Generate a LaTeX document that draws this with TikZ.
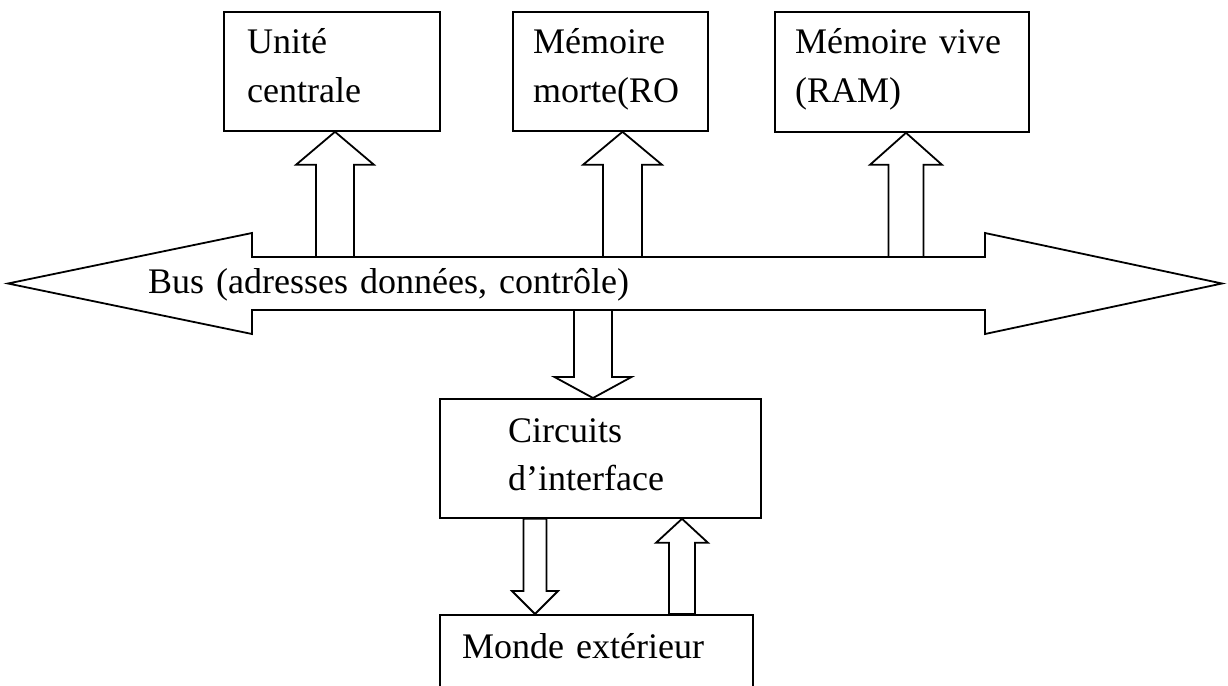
\documentclass[tikz,border=0pt]{standalone}
\usepackage{fontspec}
\setmainfont{Liberation Serif}
\usetikzlibrary{calc}
\tikzset{
  ln/.style={line width=1.8pt, line join=miter},
  box/.style={ln, draw, fill=white, anchor=north west, inner sep=0pt},
  lbl/.style={anchor=base west, inner sep=0pt, align=left, text width=320pt,
              font=\fontsize{36}{48}\selectfont},
  blk/.style={ln, draw, fill=white},
}
% #1 tip, #2 end of shaft, #3 shaft half width, #4 head half width, #5 head length
\newcommand{\blockarrow}[5]{%
  \draw[blk] let \p1=#1, \p2=#2, \n1={sign(\y1-\y2)} in
    (\x1,\y1) -- (\x1+#4,\y1-\n1*#5) -- (\x1+#3,\y1-\n1*#5) -- (\x1+#3,\y2)
    -- (\x1-#3,\y2) -- (\x1-#3,\y1-\n1*#5) -- (\x1-#4,\y1-\n1*#5) -- cycle;}
\begin{document}
\begin{tikzpicture}[x=1pt,y=-1pt]
\useasboundingbox (0,0) rectangle (1228,685);
\fill[white] (0,0) rectangle (1228,685);

% boxes
\node[box, minimum width=216, minimum height=119] (cpu) at (223,11) {};
\node[box, minimum width=195, minimum height=119] (rom) at (512,11) {};
\node[box, minimum width=254, minimum height=120] (ram) at (774,11) {};
\node[box, minimum width=321, minimum height=119] (ci) at (439,398) {};
\node[box, minimum width=313, minimum height=100] (monde) at (439,614) {};

% labels
\node[lbl] (cput) at (247,54) {Unité\\centrale};
\node[lbl] (romt) at (533,54) {Mémoire\\morte(RO};
\node[lbl] (ramt) at (795,54) {Mémoire vive\\(RAM)};
\node[lbl] (cit) at (508,442) {Circuits\\d’interface};
\node[lbl] (mondet) at (462,658) {Monde extérieur};

% bus (double arrow)
\draw[ln, fill=white] (8,283.5) -- (252,233) -- (252,257) -- (985,257) -- (985,233)
  -- (1222,283.5) -- (985,334) -- (985,310) -- (252,310) -- (252,334) -- cycle;
\coordinate (bustop) at (0,257);
\coordinate (busbot) at (0,310);
\node[lbl, text width=600pt] (bust) at (148,293) {Bus (adresses données, contrôle)};

% block arrows
\blockarrow{(335,0 |- cpu.south)}{(335,0 |- bustop)}{19}{39}{33}
\blockarrow{(622.5,0 |- rom.south)}{(622.5,0 |- bustop)}{19.5}{39.5}{33}
\blockarrow{(906,0 |- ram.south)}{(906,0 |- bustop)}{17.5}{36}{32}
\blockarrow{(593,0 |- ci.north)}{(593,0 |- busbot)}{19}{38.5}{21}
\blockarrow{(535,0 |- monde.north)}{(535,0 |- ci.south)}{11.5}{23}{23}
\blockarrow{(682,0 |- ci.south)}{(682,0 |- monde.north)}{13}{26}{24}
\end{tikzpicture}
\end{document}
